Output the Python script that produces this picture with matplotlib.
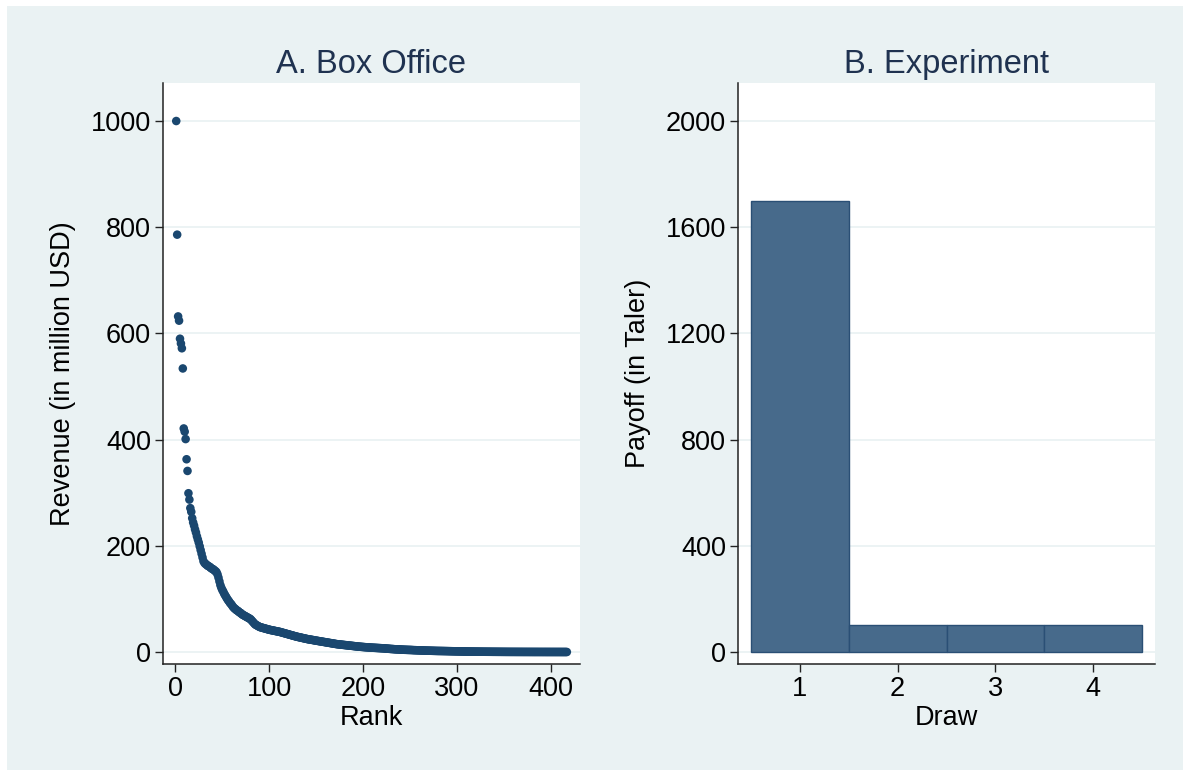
import numpy as np
import matplotlib
matplotlib.use('Agg')
import matplotlib.pyplot as plt
from matplotlib.patches import Rectangle

plt.rcParams['font.family'] = ['Liberation Sans', 'DejaVu Sans']

# Panel A: box office revenue by rank (million USD)
revenue = [
    1000, 786, 632, 624, 590, 581, 572, 534, 421, 415,
    401, 363, 341, 299, 287, 271, 264, 252, 244, 238,
    231, 225, 218, 212, 206, 199, 192, 185, 178, 171,
    168, 166, 165, 163, 162, 161, 160, 158, 157, 156,
    155, 153, 152, 150, 146, 140, 133, 126, 121, 117,
    114, 110, 107, 104, 101, 98, 96, 93, 91, 89,
    86, 84, 82, 81, 79, 78, 77, 75, 74, 73,
    71, 70, 69, 68, 67, 66, 65, 64, 63, 62,
    60, 58, 56, 54, 52, 51, 50, 49, 48, 47,
    46.5, 46, 45.5, 45, 44.5, 44, 43.5, 43, 42.5, 42,
    41.6, 41.2, 40.9, 40.5, 40.1, 39.8, 39.4, 39.0, 38.7, 38.3,
    38.0, 37.5, 37.0, 36.5, 36.0, 35.5, 35.0, 34.5, 34.0, 33.5,
    33.0, 32.5, 32.0, 31.5, 31.0, 30.5, 30.0, 29.5, 29.0, 28.6,
    28.2, 27.8, 27.4, 27.0, 26.6, 26.2, 25.8, 25.4, 25.0, 24.6,
    24.2, 23.9, 23.6, 23.3, 23.0, 22.7, 22.4, 22.0, 21.7, 21.4,
    21.1, 20.8, 20.5, 20.2, 19.9, 19.6, 19.3, 19.0, 18.7, 18.4,
    18.1, 17.8, 17.5, 17.2, 16.9, 16.6, 16.3, 16.0, 15.7, 15.4,
    15.1, 14.8, 14.6, 14.4, 14.2, 14.0, 13.8, 13.6, 13.4, 13.2,
    13.0, 12.8, 12.6, 12.4, 12.2, 12.0, 11.8, 11.6, 11.4, 11.2,
    11.0, 10.8, 10.6, 10.4, 10.2, 10.0, 9.9, 9.7, 9.6, 9.4,
    9.3, 9.1, 9.0, 8.9, 8.7, 8.6, 8.5, 8.3, 8.2, 8.1,
    8.0, 7.9, 7.8, 7.7, 7.6, 7.5, 7.4, 7.3, 7.2, 7.1,
    7.0, 6.9, 6.7, 6.6, 6.4, 6.3, 6.1, 6.0, 5.8, 5.7,
    5.6, 5.5, 5.3, 5.2, 5.1, 5.0, 4.9, 4.8, 4.7, 4.6,
    4.5, 4.4, 4.3, 4.2, 4.15, 4.1, 4.0, 3.95, 3.9, 3.85,
    3.8, 3.7, 3.6, 3.5, 3.45, 3.4, 3.3, 3.2, 3.15, 3.1,
    3.0, 2.95, 2.9, 2.8, 2.75, 2.7, 2.6, 2.55, 2.5, 2.45,
    2.4, 2.35, 2.3, 2.25, 2.2, 2.15, 2.1, 2.05, 2.0, 1.98,
    1.95, 1.92, 1.9, 1.87, 1.84, 1.8, 1.77, 1.74, 1.7, 1.67,
    1.62, 1.58, 1.54, 1.5, 1.46, 1.42, 1.38, 1.34, 1.3, 1.26,
    1.22, 1.18, 1.14, 1.1, 1.06, 1.02, 0.98, 0.95, 0.92, 0.89,
    0.86, 0.83, 0.8, 0.78, 0.76, 0.74, 0.72, 0.7, 0.68, 0.66,
    0.64, 0.62, 0.6, 0.58, 0.56, 0.54, 0.52, 0.5, 0.49, 0.48,
    0.46, 0.45, 0.44, 0.42, 0.41, 0.4, 0.38, 0.37, 0.36, 0.35,
    0.34, 0.33, 0.32, 0.31, 0.3, 0.29, 0.28, 0.27, 0.26, 0.25,
    0.24, 0.23, 0.22, 0.21, 0.2, 0.2, 0.19, 0.19, 0.18, 0.18,
    0.17, 0.17, 0.16, 0.16, 0.15, 0.15, 0.14, 0.14, 0.13, 0.13,
    0.12, 0.12, 0.12, 0.11, 0.11, 0.11, 0.1, 0.1, 0.1, 0.09,
    0.09, 0.09, 0.08, 0.08, 0.08, 0.08, 0.07, 0.07, 0.07, 0.07,
    0.06, 0.06, 0.06, 0.06, 0.05, 0.05, 0.05, 0.05, 0.05, 0.04,
    0.04, 0.04, 0.04, 0.04, 0.03, 0.03, 0.03, 0.03, 0.03, 0.03,
    0.02, 0.02, 0.02, 0.02, 0.02, 0.01, 0.01,
]
rank = np.arange(1, len(revenue) + 1)
revenue_ticks = [0, 200, 400, 600, 800, 1000]
rank_ticks = [0, 100, 200, 300, 400]

# Panel B: payoff per draw (Taler)
draws = [1, 2, 3, 4]
payoff = [1700, 100, 100, 100]
payoff_ticks = [0, 400, 800, 1200, 1600, 2000]

bg = '#EAF2F3'
navy = '#1A476F'
W, H = 1189, 771

fig = plt.figure(figsize=(W / 100, H / 100), dpi=100, facecolor='white')
fig.patches.append(Rectangle((7 / W, 1 / H), 1176 / W, 764 / H,
                             transform=fig.transFigure, facecolor=bg,
                             edgecolor='none', zorder=-10))

ax1 = fig.add_axes([163 / W, 1 - 664 / H, 417 / W, 581 / H])
ax2 = fig.add_axes([738 / W, 1 - 664 / H, 417 / W, 581 / H])


def style(ax, yticks):
    ax.set_facecolor('white')
    for s in ['top', 'right']:
        ax.spines[s].set_visible(False)
    for s in ['left', 'bottom']:
        ax.spines[s].set_color('#222222')
        ax.spines[s].set_linewidth(1.1)
    ax.set_yticks(yticks)
    ax.yaxis.grid(True, color=bg, linewidth=1.3)
    ax.set_axisbelow(True)
    ax.tick_params(axis='both', direction='out', length=6, width=1,
                   colors='#222222', labelsize=19.5, labelcolor='black')
    ax.tick_params(axis='y', pad=2.5)
    ax.tick_params(axis='x', pad=3)


style(ax1, revenue_ticks)
ax1.scatter(rank, revenue, s=38, color=navy, edgecolors='none', zorder=3)
ax1.set_xticks(rank_ticks)
ax1.set_xlim(-13.1, 431)
ax1.set_ylim(-22.6, 1071.6)
ax1.set_xlabel('Rank', fontsize=19.5, labelpad=2)
ax1.set_ylabel('Revenue (in million USD)', fontsize=19.5, labelpad=11)
ax1.set_title('A. Box Office', fontsize=23.5, color='#1F3250', pad=7)

style(ax2, payoff_ticks)
ax2.bar(draws, payoff, width=1, color='#476A8B', edgecolor='#2A4F75',
        linewidth=1, zorder=3)
ax2.set_xticks(draws)
ax2.set_xlim(0.37, 4.63)
ax2.set_ylim(-45.2, 2143)
ax2.set_xlabel('Draw', fontsize=19.5, labelpad=2)
ax2.set_ylabel('Payoff (in Taler)', fontsize=19.5, labelpad=11)
ax2.set_title('B. Experiment', fontsize=23.5, color='#1F3250', pad=7)

fig.savefig('out.png', dpi=100, facecolor='white')
